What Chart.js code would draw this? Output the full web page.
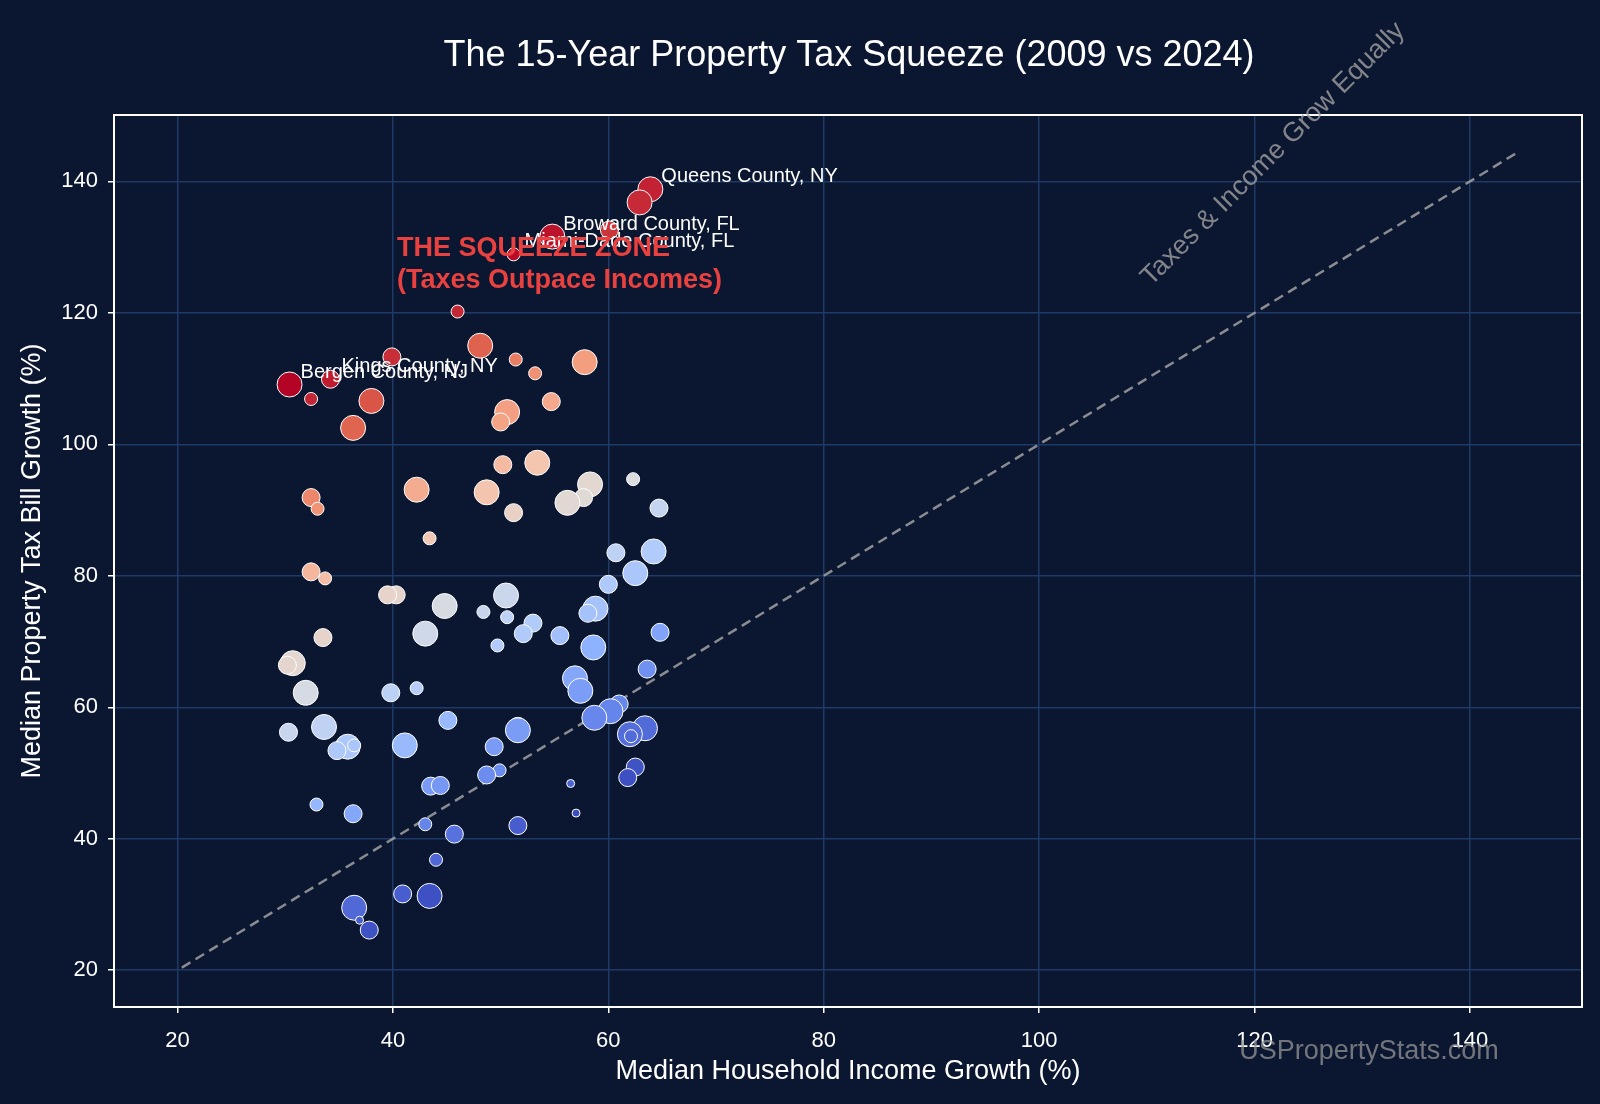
<!DOCTYPE html>
<html>
<head>
<meta charset="utf-8">
<script src="https://cdn.jsdelivr.net/npm/chart.js@4"></script>
<style>
  html, body { margin: 0; padding: 0; background: #0b1730; }
  canvas { display: block; }
</style>
</head>
<body>
<canvas id="chart" width="1600" height="1104"></canvas>
<script>
// income growth (%), tax growth (%), relative size
const incomeGrowth = [63.9,62.9,54.8,60.1,51.2,46.0,48.1,39.9,51.4,57.8,53.2,34.2,30.4,32.4,38.0,54.7,50.6,50.0,36.3,53.4,50.2,62.3,58.3,42.2,48.7,32.4,57.7,56.2,64.7,33.0,51.2,43.4,64.2,60.7,62.5,32.4,33.7,60.0,40.3,39.5,50.5,44.8,58.8,58.1,48.4,50.6,53.0,52.1,64.8,33.5,43.0,55.5,58.6,49.7,30.7,30.2,63.6,56.9,57.4,31.9,42.2,39.8,61.0,60.2,58.7,45.1,51.6,33.6,63.4,30.3,51.6,62.0,62.1,35.8,36.4,34.8,41.1,49.4,62.5,49.9,48.7,61.8,56.5,43.5,44.4,32.9,57.0,36.3,43.0,51.6,45.7,44.0,40.9,43.4,36.4,36.9,37.8];
const taxGrowth = [138.8,136.8,131.6,132.6,128.9,120.2,115.0,113.3,112.9,112.5,110.8,109.9,109.1,106.9,106.6,106.5,104.9,103.4,102.5,97.2,96.9,94.7,93.9,93.1,92.7,91.9,91.9,91.1,90.3,90.2,89.6,85.7,83.7,83.5,80.4,80.6,79.6,78.7,77.1,77.1,77.0,75.4,75.0,74.3,74.5,73.7,72.8,71.2,71.4,70.6,71.2,70.9,69.1,69.4,66.7,66.4,65.8,64.4,62.5,62.2,62.9,62.2,60.5,59.4,58.4,58.0,57.1,57.0,56.8,56.2,56.5,55.9,55.6,54.0,54.2,53.4,54.2,54.0,50.9,50.4,49.7,49.3,48.4,48.0,48.1,45.2,43.9,43.8,42.2,42.0,40.7,36.8,31.6,31.3,29.5,27.6,26.1];
const countySize = [3,3,3,2,1,1,3,2,1,3,1,2,3,1,3,2,3,2,3,3,2,1,3,3,3,2,2,3,2,1,2,1,3,2,3,2,1,2,2,2,3,3,3,2,1,1,2,2,2,2,3,2,3,1,3,2,2,3,3,3,1,2,2,3,3,2,2,3,3,2,3,3,1,3,1,2,3,2,2,1,2,2,0,2,2,1,0,2,1,2,2,1,2,3,3,0,2];
const labelNames = ["Queens County, NY","Broward County, FL","Miami-Dade County, FL","Kings County, NY","Bergen County, NJ"];
const labelX = [63.9,54.8,51.2,34.2,30.4];
const labelY = [138.8,131.6,128.9,109.9,109.1];
const tickValues = [20,40,60,80,100,120,140];
const diagonal = [20.4,144.3];

const stops = [[59,76,192],[98,130,234],[141,176,254],[184,208,249],[221,221,221],[245,196,173],[244,154,123],[222,96,77],[180,4,38]];
function coolwarm(t) {
  t = Math.max(0, Math.min(1, t)) * 8;
  const i = Math.min(7, Math.floor(t)), f = t - i;
  const c = stops[i].map((v, k) => Math.round(v + (stops[i + 1][k] - v) * f));
  return 'rgb(' + c.join(',') + ')';
}
// colour = gap between tax growth and income growth
const gaps = taxGrowth.map((v, i) => v - incomeGrowth[i]);
const gMin = Math.min(...gaps), gMax = Math.max(...gaps);
const radii = [4, 6.5, 9, 12.5];

const points = incomeGrowth.map((x, i) => ({x: x, y: taxGrowth[i]}));

const decor = {
  id: 'decor',
  afterDraw(chart) {
    const ctx = chart.ctx, a = chart.chartArea, xs = chart.scales.x, ys = chart.scales.y;
    ctx.save();
    ctx.strokeStyle = '#ffffff'; ctx.lineWidth = 2;
    ctx.strokeRect(a.left, a.top, a.right - a.left, a.bottom - a.top);
    ctx.fillStyle = '#ffffff'; ctx.textAlign = 'center'; ctx.textBaseline = 'middle';
    ctx.font = '36px "Liberation Sans", Arial, sans-serif';
    ctx.fillText('The 15-Year Property Tax Squeeze (2009 vs 2024)', 849, 56);
    ctx.font = '20px "Liberation Sans", Arial, sans-serif';
    ctx.textAlign = 'left'; ctx.textBaseline = 'alphabetic';
    labelNames.forEach((n, i) => {
      ctx.fillText(n, xs.getPixelForValue(labelX[i]) + 11, ys.getPixelForValue(labelY[i]) - 7);
    });
    ctx.fillStyle = '#e8413f'; ctx.font = 'bold 27px "Liberation Sans", Arial, sans-serif';
    ctx.fillText('THE SQUEEZE ZONE', 397, 256);
    ctx.fillText('(Taxes Outpace Incomes)', 397, 288);
    ctx.fillStyle = 'rgba(160,160,160,0.8)'; ctx.font = '27px "Liberation Sans", Arial, sans-serif';
    ctx.translate(1272, 153); ctx.rotate(-Math.PI / 4); ctx.textAlign = 'center';
    ctx.fillText('Taxes & Income Grow Equally', 0, 9);
    ctx.restore();
    ctx.save();
    ctx.fillStyle = 'rgba(150,150,150,0.75)'; ctx.font = '27px "Liberation Sans", Arial, sans-serif';
    ctx.textAlign = 'center'; ctx.textBaseline = 'middle';
    ctx.fillText('USPropertyStats.com', 1369, 1052);
    ctx.restore();
  }
};

const fontFam = '"Liberation Sans", Arial, sans-serif';
new Chart(document.getElementById('chart'), {
  type: 'scatter',
  data: {
    datasets: [{
      data: points,
      pointRadius: countySize.map(s => radii[s]),
      pointBackgroundColor: gaps.map(g => coolwarm((g - gMin) / (gMax - gMin))),
      pointBorderColor: '#ffffff',
      pointBorderWidth: 1,
      order: 1
    }, {
      type: 'line',
      data: diagonal.map(v => ({x: v, y: v})),
      borderColor: 'rgba(170,170,170,0.8)',
      borderDash: [10, 6],
      borderWidth: 2.5,
      pointRadius: 0,
      order: 2
    }]
  },
  options: {
    responsive: false,
    devicePixelRatio: 1,
    animation: false,
    layout: {padding: {top: 115, right: 18, left: 12, bottom: 12}},
    plugins: {legend: {display: false}, tooltip: {enabled: false}},
    scales: {
      x: {
        type: 'linear', min: 14.1, max: 150.4,
        afterBuildTicks: s => { s.ticks = tickValues.map(v => ({value: v})); },
        afterFit: s => { s.height = 85; },
        grid: {color: '#1f3a66', lineWidth: 1.5, drawTicks: true, tickColor: '#ffffff', tickLength: 6},
        border: {display: false},
        ticks: {color: '#ffffff', font: {size: 22, family: fontFam}, padding: 15},
        title: {display: true, text: 'Median Household Income Growth (%)', color: '#ffffff', font: {size: 27, family: fontFam}, padding: {top: 4}}
      },
      y: {
        type: 'linear', min: 14.4, max: 150.1,
        afterBuildTicks: s => { s.ticks = tickValues.map(v => ({value: v})); },
        afterFit: s => { s.width = 102; },
        grid: {color: '#1f3a66', lineWidth: 1.5, drawTicks: true, tickColor: '#ffffff', tickLength: 6},
        border: {display: false},
        ticks: {color: '#ffffff', font: {size: 22, family: fontFam}, padding: 10},
        title: {display: true, text: 'Median Property Tax Bill Growth (%)', color: '#ffffff', font: {size: 27, family: fontFam}, padding: {bottom: 2}}
      }
    }
  },
  plugins: [decor]
});
</script>
</body>
</html>
